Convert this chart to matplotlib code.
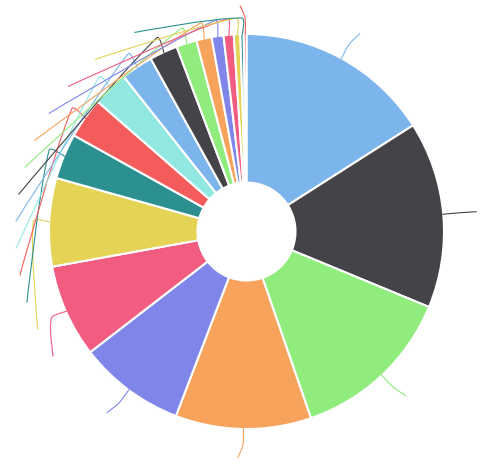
import numpy as np
import matplotlib
matplotlib.use("Agg")
import matplotlib.pyplot as plt
from matplotlib.path import Path
from matplotlib.patches import PathPatch

# slice values, clockwise from 12 o'clock
values = [57.5, 55.0, 48.5, 40.0, 31.4, 27.4, 26.0, 13.4, 12.0, 10.5,
          9.4, 8.3, 6.0, 4.5, 3.5, 3.0, 1.9, 1.0, 0.8]
palette = ["#7cb5ec", "#434348", "#90ed7d", "#f7a35c", "#8085e9",
           "#f15c80", "#e4d354", "#2b908f", "#f45b5b", "#91e8e1"]
colors = [palette[i % len(palette)] for i in range(len(values))]

W, H = 502, 477
cx, cy = 246.5, 232.5
r_out, r_in = 197.5, 49
r_edge = 196.5
len1 = 17      # first leg of the label line
rA = 226       # radius where labels sit
len2 = 5
gap = 27       # label spacing when they overlap
smooth = 0.3

fig = plt.figure(figsize=(W / 100, H / 100), dpi=100)
ax = fig.add_axes([0, 0, 1, 1])
ax.pie(values, colors=colors, radius=r_out, center=(cx, cy),
       startangle=-90, counterclock=True,
       wedgeprops=dict(width=r_out - r_in, edgecolor="white", linewidth=1.5))
ax.set_xlim(0, W)
ax.set_ylim(H, 0)
ax.set_aspect("auto")
ax.axis("off")

# label line layout (pie labels pushed apart, like echarts does)
frac = np.array(values) / sum(values)
mids = np.cumsum(frac) * 360 - frac * 180
items = []
for i, a in enumerate(mids):
    t = np.radians(a)
    ux, uy = np.sin(t), -np.cos(t)
    side = 1 if a < 180 else -1
    items.append(dict(
        c=colors[i], side=side,
        p0=(cx + r_edge * ux, cy + r_edge * uy),
        p1=(cx + (r_edge + len1) * ux, cy + (r_edge + len1) * uy),
        x=cx + rA * ux + side * len2, y=cy + rA * uy, dx0=rA * ux))

for side in (1, -1):
    lst = sorted([d for d in items if d["side"] == side], key=lambda d: d["y"])
    shifted = False
    for k in range(1, len(lst)):
        if lst[k]["y"] < lst[k - 1]["y"] + gap:
            lst[k]["y"] = lst[k - 1]["y"] + gap
            shifted = True
    if not shifted:
        continue
    for semi in ([d for d in lst if d["y"] <= cy], [d for d in lst if d["y"] > cy]):
        if not semi:
            continue
        far = max(semi, key=lambda d: abs(d["y"] - cy))
        dy = abs(far["y"] - cy)
        if abs(far["dx0"]) < rA:
            rB = np.sqrt(dy * dy / (1 - far["dx0"] ** 2 / rA ** 2))
        else:
            rB = rA
        for d in semi:
            dy = abs(d["y"] - cy)
            d["x"] = cx + side * (np.sqrt(max(0, 1 - dy * dy / rB ** 2)) * rA + len2)


def smooth_path(pts, s):
    p0, p1, p2 = [np.array(p, float) for p in pts]
    v = (p2 - p0) * s
    d0 = np.linalg.norm(p1 - p0)
    d1 = np.linalg.norm(p1 - p2)
    tot = d0 + d1
    if tot:
        d0, d1 = d0 / tot, d1 / tot
    cp0 = p1 - v * d0
    cp1 = p1 + v * d1
    verts = [p0, p0, cp0, p1, cp1, p2, p2]
    codes = [Path.MOVETO] + [Path.CURVE4] * 6
    return Path(verts, codes)


for d in items:
    path = smooth_path([d["p0"], d["p1"], (d["x"], d["y"])], smooth)
    ax.add_patch(PathPatch(path, facecolor="none", edgecolor=d["c"],
                           linewidth=0.8, zorder=5))

fig.savefig("out.png", dpi=100, facecolor="white")
